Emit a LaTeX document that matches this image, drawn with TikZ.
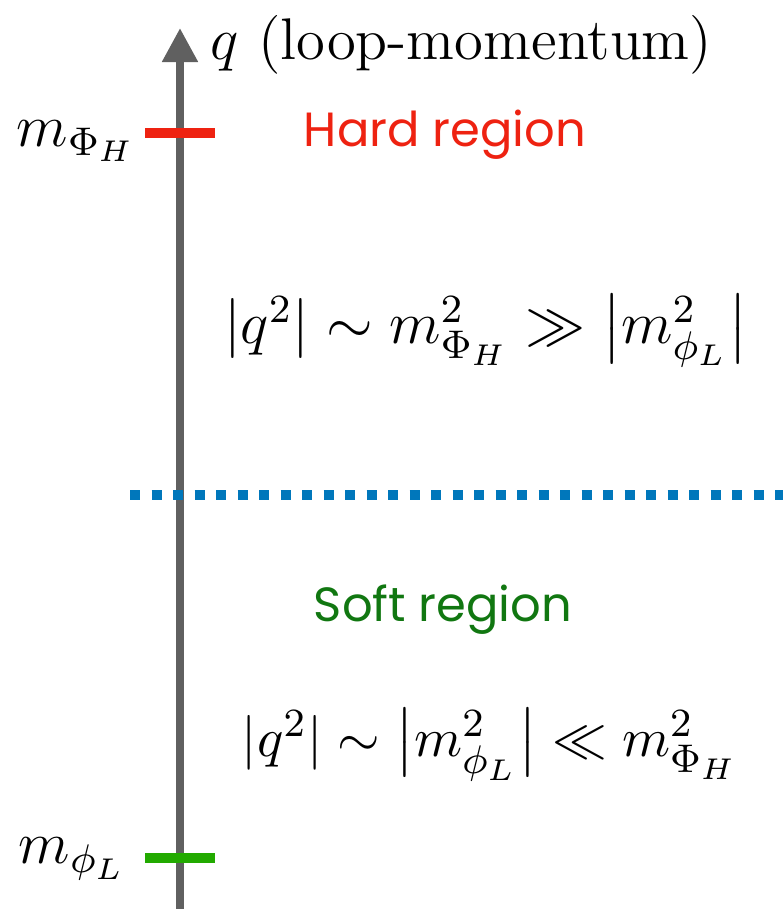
\documentclass[tikz,border=0pt]{standalone}
\usepackage{amsmath,amssymb}
\usepackage{fontspec}
\newfontfamily\regionfont{Poppins}
\usepackage{tikz}
\usetikzlibrary{arrows.meta,positioning}

\definecolor{axisgray}{HTML}{606060}
\definecolor{hardred}{HTML}{EE2211}
\definecolor{softgreen}{HTML}{117711}
\definecolor{lowgreen}{HTML}{22AA00}
\definecolor{splitblue}{HTML}{0077BB}

\begin{document}
\begin{tikzpicture}[
  x=0.2pt, y=-0.2pt,
  font=\fontsize{11.6}{14}\selectfont,
  axis/.style     ={draw=axisgray, line width=1.6pt,
                    -{Triangle[width=6.8pt, length=6.8pt]}},
  masstick/.style ={line width=2.1pt},
  masslbl/.style  ={anchor=east, inner sep=0pt, font=\fontsize{12}{14}\selectfont},
  region/.style   ={font=\regionfont\fontsize{9.6}{12}\selectfont, inner sep=0pt},
  split/.style    ={draw=splitblue, line width=2pt, dash pattern=on 2pt off 2.3pt}
]

\useasboundingbox (0,0) rectangle (783,909);

% axis
\coordinate (qbot) at (180,909);
\coordinate (qtop) at (180,28);
\draw[axis] (qbot) -- (qtop);
\node[anchor=west, inner sep=0pt, font=\fontsize{11.75}{14}\selectfont]
  (qlbl) at (210,45) {$q$ (loop-momentum)};

% heavy and light mass scales
\coordinate (hl) at (145,133);
\coordinate (hr) at (215,133);
\draw[masstick, draw=hardred] (hl) -- (hr);
\node[masslbl] (mH) at (137,141) {$m_{\Phi_H}$};

\coordinate (ll) at (145,858);
\coordinate (lr) at (215,858);
\draw[masstick, draw=lowgreen] (ll) -- (lr);
\node[masslbl] (mL) at (127,859) {$m_{\phi_L}$};

% boundary between the regions
\coordinate (sl) at (130,495);
\coordinate (sr) at (783,495);
\draw[split] (sl) -- (sr);

\node[region, text=hardred] (hard) at (445,135) {Hard region};
\node[inner sep=0pt] (hardeq) at (486,330)
  {$|q^2| \sim m_{\Phi_H}^2 \gg \bigl|m_{\phi_L}^2\bigr|$};

\node[region, text=softgreen] (soft) at (443,610) {Soft region};
\node[inner sep=0pt, font=\fontsize{11.3}{14}\selectfont] (softeq) at (490,745)
  {$|q^2| \sim \bigl|m_{\phi_L}^2\bigr| \ll m_{\Phi_H}^2$};

\end{tikzpicture}
\end{document}
